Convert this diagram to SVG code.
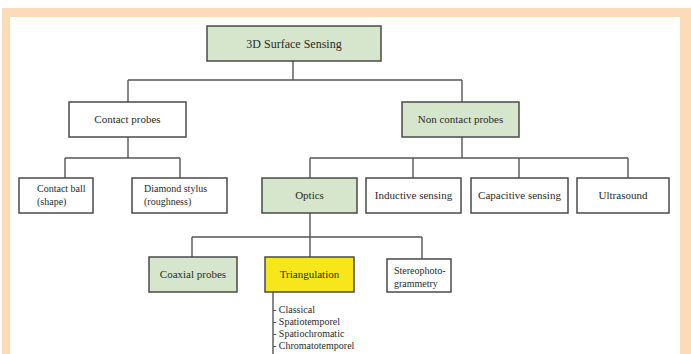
<svg xmlns="http://www.w3.org/2000/svg" width="691" height="354" viewBox="0 0 691 354">
<style>
.box{stroke:#4a4a4a;stroke-width:1.5}
.w{fill:#ffffff}
.g{fill:#d5e6cc}
.y{fill:#f8e61c}
text{font-family:"Liberation Serif","Times New Roman",serif;font-size:11px;fill:#2a2a2a}
.c{text-anchor:middle}
.s{font-size:10px}
.conn line{stroke:#555;stroke-width:1.4}
</style>
<rect x="0" y="0" width="691" height="354" fill="#ffffff"/>
<rect x="2" y="8" width="689" height="346" fill="#fcdbb9"/>
<rect x="10" y="17" width="670" height="337" fill="#ffffff"/>
<g class="conn">
<line x1="293" y1="61" x2="293" y2="80"/>
<line x1="128" y1="80" x2="462" y2="80"/>
<line x1="128" y1="80" x2="128" y2="102"/>
<line x1="462" y1="80" x2="462" y2="102"/>
<line x1="128" y1="137" x2="128" y2="158"/>
<line x1="65" y1="158" x2="180" y2="158"/>
<line x1="65" y1="158" x2="65" y2="178"/>
<line x1="180" y1="158" x2="180" y2="178"/>
<line x1="462" y1="137" x2="462" y2="158"/>
<line x1="310" y1="158" x2="628" y2="158"/>
<line x1="310" y1="158" x2="310" y2="178"/>
<line x1="413" y1="158" x2="413" y2="178"/>
<line x1="519" y1="158" x2="519" y2="178"/>
<line x1="628" y1="158" x2="628" y2="178"/>
<line x1="310" y1="213" x2="310" y2="237"/>
<line x1="192" y1="237" x2="422" y2="237"/>
<line x1="192" y1="237" x2="192" y2="257"/>
<line x1="310" y1="237" x2="310" y2="257"/>
<line x1="422" y1="237" x2="422" y2="259"/>
<line x1="273" y1="292" x2="273" y2="354"/>
</g>
<g id="n-root"><rect class="box g" x="207" y="26" width="174" height="35"/><text class="c" x="294" y="47.5" style="font-size:12px">3D Surface Sensing</text></g>
<g id="n-contact"><rect class="box w" x="69" y="102" width="117" height="35"/><text class="c" x="127.5" y="123">Contact probes</text></g>
<g id="n-noncontact"><rect class="box g" x="402" y="102" width="117" height="35"/><text class="c" x="460.5" y="123">Non contact probes</text></g>
<g id="n-ball"><rect class="box w" x="19" y="178" width="74" height="35"/><text class="s" x="37" y="192">Contact ball</text><text class="s" x="37" y="205">(shape)</text></g>
<g id="n-diamond"><rect class="box w" x="132" y="178" width="95" height="35"/><text class="s" x="144" y="192">Diamond stylus</text><text class="s" x="144" y="205">(roughness)</text></g>
<g id="n-optics"><rect class="box g" x="262" y="178" width="95" height="35"/><text class="c" x="309.5" y="199">Optics</text></g>
<g id="n-inductive"><rect class="box w" x="366" y="178" width="95" height="35"/><text class="c" x="413.5" y="199">Inductive sensing</text></g>
<g id="n-capacitive"><rect class="box w" x="471" y="178" width="97" height="35"/><text class="c" x="519.5" y="199">Capacitive sensing</text></g>
<g id="n-ultrasound"><rect class="box w" x="577" y="178" width="92" height="35"/><text class="c" x="623" y="199">Ultrasound</text></g>
<g id="n-coaxial"><rect class="box g" x="149" y="257" width="88" height="35"/><text class="c" x="193" y="278">Coaxial probes</text></g>
<g id="n-triangulation"><rect class="box y" x="265" y="257" width="89" height="35"/><text class="c" x="309.5" y="278">Triangulation</text></g>
<g id="n-stereo"><rect class="box w" x="387" y="259" width="64" height="33"/><text class="s" x="394" y="274">Stereophoto-</text><text class="s" x="394" y="287">grammetry</text></g>
<g id="n-list">
<text class="s" x="273" y="313">- Classical</text>
<text class="s" x="273" y="325">- Spatiotemporel</text>
<text class="s" x="273" y="337">- Spatiochromatic</text>
<text class="s" x="273" y="349">- Chromatotemporel</text>
</g>
</svg>
